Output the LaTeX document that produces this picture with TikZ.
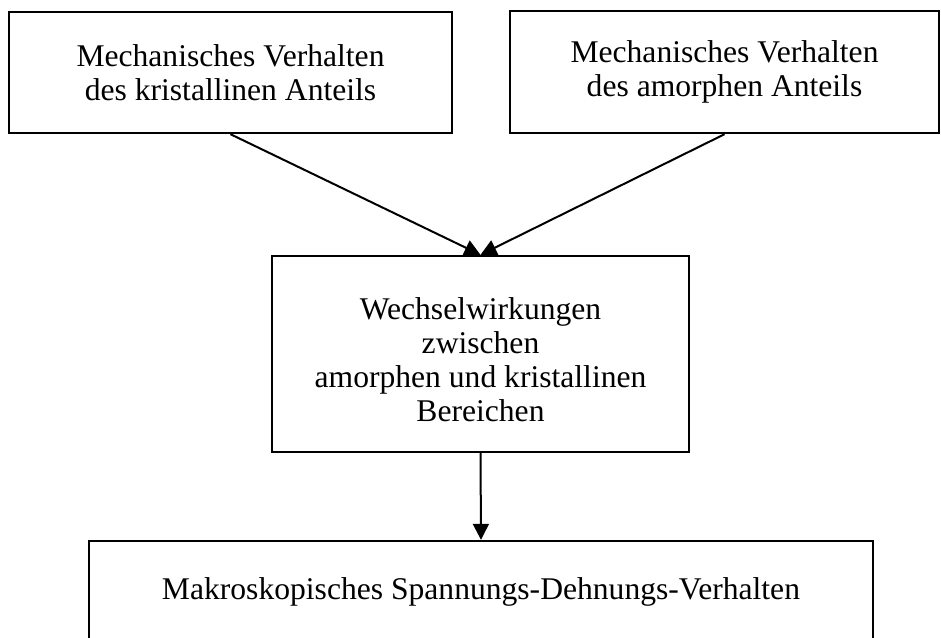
\documentclass[tikz,border=0pt]{standalone}
\usepackage{fontspec}
\setmainfont{Liberation Serif}
\usetikzlibrary{positioning, arrows.meta}

\begin{document}
\begin{tikzpicture}[x=0.5pt, y=-0.5pt]
        \tikzstyle{block}=[draw=black, line width=1.2pt, align=center, inner sep=0pt, font=\fontsize{15.8}{17}\selectfont];
        \tikzstyle{pfeil}=[-{Triangle[length=8pt, width=8pt]}, line width=1pt, black];

        \useasboundingbox (0, 0) rectangle (941, 637);

        \node[block, minimum width=221.5pt, minimum height=60.5pt] (kristall) at (230.5, 72.5) {Mechanisches Verhalten\\des kristallinen Anteils};
        \node[block, minimum width=214.5pt, minimum height=61pt] (amorph) at (724.5, 72) {Mechanisches Verhalten\\des amorphen Anteils};

        \node[block, minimum width=208.5pt, minimum height=98pt] (wechsel) at (480.5, 354) {\rule{0pt}{16.5pt}Wechselwirkungen\\zwischen\\amorphen und kristallinen\\Bereichen};

        \node[block, minimum width=392pt, minimum height=51pt] (makro) at (481, 592) {Makroskopisches Spannungs-Dehnungs-Verhalten};

        \draw (kristall.south) edge[pfeil] (wechsel.north);
        \draw (amorph.south) edge[pfeil] (wechsel.north);
        \draw (wechsel.south) edge[pfeil] (makro.north);
    \end{tikzpicture}
\end{document}
